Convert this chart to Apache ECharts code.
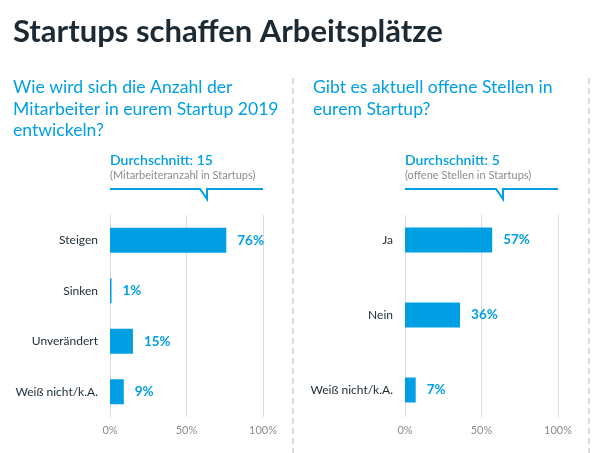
<!DOCTYPE html>
<html>
<head>
<meta charset="utf-8">
<script src="https://cdn.jsdelivr.net/npm/echarts@6/dist/echarts.min.js"></script>
<style>html,body{margin:0;padding:0;background:#fff}#c{width:604px;height:453px}</style>
</head>
<body>
<div id="c"></div>
<script>
var titleText = 'Startups schaffen Arbeitsplätze';
var leftQuestion = 'Wie wird sich die Anzahl der\nMitarbeiter in eurem Startup 2019\nentwickeln?';
var rightQuestion = 'Gibt es aktuell offene Stellen in\neurem Startup?';
var leftAvg = 'Durchschnitt: 15';
var leftAvgNote = '(Mitarbeiteranzahl in Startups)';
var rightAvg = 'Durchschnitt: 5';
var rightAvgNote = '(offene Stellen in Startups)';
var leftCategories = ['Steigen', 'Sinken', 'Unverändert', 'Weiß nicht/k.A.'];
var leftValues = [76, 1, 15, 9];
var rightCategories = ['Ja', 'Nein', 'Weiß nicht/k.A.'];
var rightValues = [57, 36, 7];
var axisMin = 0, axisMax = 100, axisStep = 50;

var BLUE = '#009fe3', DARK = '#1d2a33', GRAY = '#8c8c8c', FONT = 'Lato';
var chart = echarts.init(document.getElementById('c'), null, {renderer: 'canvas'});

function valueAxis(gi, show) {
  return {
    type: 'value', gridIndex: gi, min: axisMin, max: axisMax, interval: axisStep, show: show,
    axisLine: {show: false}, axisTick: {show: false},
    axisLabel: {formatter: '{value}%', color: GRAY, fontSize: 11, fontFamily: FONT, margin: 8},
    splitLine: {show: true, lineStyle: {color: '#dcdcdc', width: 1}}
  };
}
function catAxis(gi, data, show) {
  return {
    type: 'category', gridIndex: gi, data: data, inverse: true, show: show,
    axisLine: {show: false}, axisTick: {show: false},
    axisLabel: {color: DARK, fontSize: 12, fontFamily: FONT, margin: 12}
  };
}
function barSeries(xi, data) {
  return {
    type: 'bar', xAxisIndex: xi, yAxisIndex: xi, data: data, barWidth: 25,
    itemStyle: {color: BLUE},
    label: {show: true, position: 'right', distance: 11, formatter: '{c}%', color: BLUE,
      fontWeight: 'bold', fontSize: 13.5, fontFamily: FONT},
    silent: true, animation: false
  };
}
function bubble(x0, x1, notch) {
  return {
    type: 'polyline', silent: true,
    shape: {points: [[x0, 189], [notch, 189], [notch + 7, 199], [notch + 7, 189], [x1, 189]]},
    style: {stroke: BLUE, lineWidth: 2, fill: null}
  };
}
function txt(x, y, text, font, color, lh) {
  return {type: 'text', silent: true, x: x, y: y,
    style: {text: text, font: font, fill: color, lineHeight: lh || 0, verticalAlign: 'middle'}};
}
function dash(x) {
  return {type: 'line', silent: true, shape: {x1: x, y1: 78, x2: x, y2: 453},
    style: {stroke: '#cfcfcf', lineWidth: 1.5, lineDash: [6, 4]}};
}

chart.setOption({
  animation: false,
  title: {text: titleText, left: 8, top: 11,
    textStyle: {fontSize: 31, fontWeight: 'bold', color: DARK, fontFamily: FONT}},
  grid: [
    {left: 110, width: 153, top: 215, height: 202},
    {left: 405, width: 153, top: 202.5, height: 225},
    {left: 405, width: 153, top: 215, height: 202}
  ],
  xAxis: [valueAxis(0, true), valueAxis(1, false), valueAxis(2, true)],
  yAxis: [catAxis(0, leftCategories, true), catAxis(1, rightCategories, true), {type: 'category', gridIndex: 2, show: false, data: []}],
  series: [barSeries(0, leftValues), barSeries(1, rightValues)],
  graphic: [
    dash(293), dash(589),
    {type: 'text', silent: true, x: 13, y: 77, style: {text: leftQuestion, font: '17.6px Lato', fill: BLUE, lineHeight: 21.5, verticalAlign: 'top'}},
    {type: 'text', silent: true, x: 313, y: 77, style: {text: rightQuestion, font: '17.6px Lato', fill: BLUE, lineHeight: 21.5, verticalAlign: 'top'}},
    txt(110, 160, leftAvg, '600 14px Lato', BLUE),
    txt(110, 175, leftAvgNote, '11px Lato', GRAY),
    txt(405, 160, rightAvg, '600 14px Lato', BLUE),
    txt(405, 175, rightAvgNote, '11px Lato', GRAY),
    bubble(110, 263, 200),
    bubble(405, 558, 496)
  ]
});
</script>
</body>
</html>
